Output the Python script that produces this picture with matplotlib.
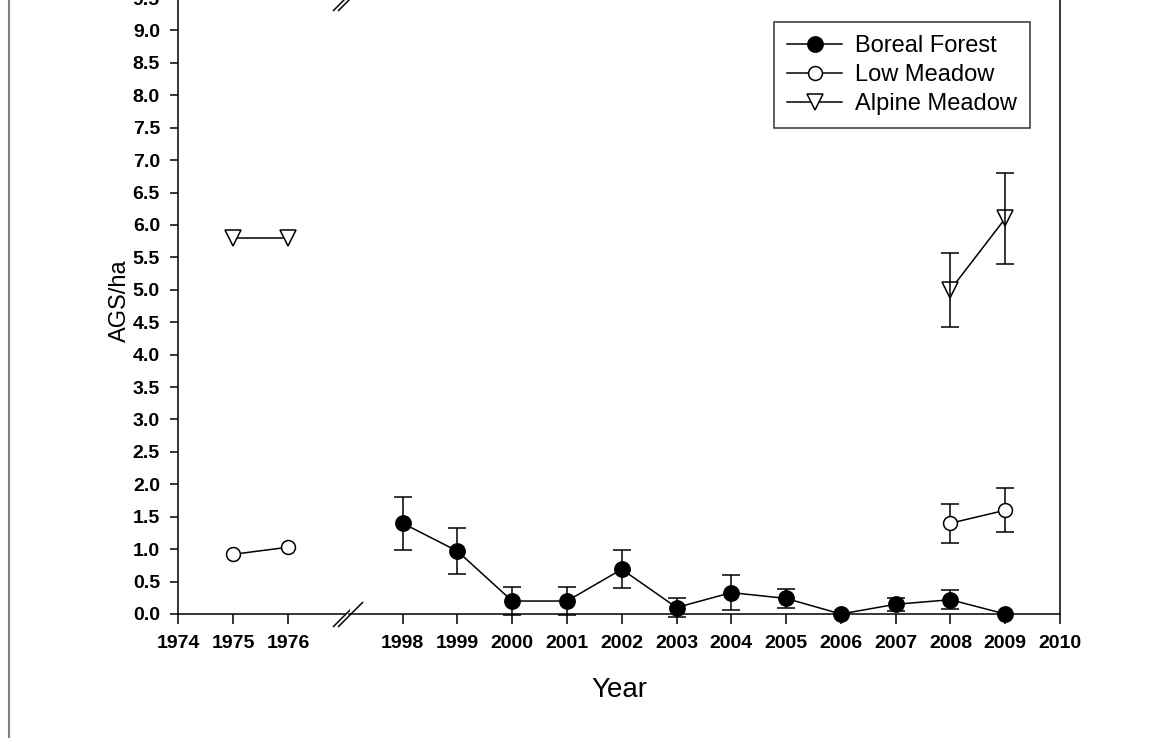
import numpy as np
import matplotlib.pyplot as plt
from matplotlib.lines import Line2D

# data
boreal_years = [1998, 1999, 2000, 2001, 2002, 2003, 2004, 2005, 2006, 2007, 2008, 2009]
boreal_vals = [1.40, 0.97, 0.20, 0.20, 0.69, 0.10, 0.33, 0.24, 0.0, 0.15, 0.22, 0.0]
boreal_err = [0.41, 0.36, 0.21, 0.21, 0.29, 0.14, 0.27, 0.15, 0.0, 0.10, 0.15, 0.0]

low_years = [1975, 1976, 2008, 2009]
low_vals = [0.92, 1.03, 1.40, 1.60]
low_err = [0.0, 0.0, 0.30, 0.34]

alpine_years = [1975, 1976, 2008, 2009]
alpine_vals = [5.80, 5.80, 5.00, 6.10]
alpine_err = [0.0, 0.0, 0.57, 0.70]

left_ticks = [1974, 1975, 1976]
right_ticks = list(range(1998, 2011))
y_ticks = np.arange(0, 9.51, 0.5)

plt.rcParams['font.family'] = ['Liberation Sans', 'DejaVu Sans']

W, H = 1174, 738
fig = plt.figure(figsize=(W / 100, H / 100), dpi=100)


def px_rect(x0, x1, ytop, ybot):
    return [x0 / W, 1 - ybot / H, (x1 - x0) / W, (ybot - ytop) / H]


ax1 = fig.add_axes(px_rect(178, 344.5, -2, 614))
ax2 = fig.add_axes(px_rect(349.5, 1060, -2, 614), sharey=ax1)

ax1.set_xlim(1974, 1974 + 166.5 / 55)
ax2.set_xlim(2010 - 710.5 / 54.78, 2010)
ax1.set_ylim(0, 9.5)

series = [
    (boreal_years, boreal_vals, boreal_err, 'o', 'black', 11, 'Boreal Forest', 2),
    (low_years, low_vals, low_err, 'o', 'white', 10, 'Low Meadow', 2),
    (alpine_years, alpine_vals, alpine_err, 'v', 'white', 11, 'Alpine Meadow', 4),
]

handles = []
for years, vals, errs, mk, fc, ms, name, ez in series:
    years = np.array(years)
    vals = np.array(vals)
    errs = np.array(errs)
    for ax, sel in [(ax1, years < 1990), (ax2, years >= 1990)]:
        if not sel.any():
            continue
        ax.plot(years[sel], vals[sel], color='black', lw=1.1, marker=mk,
                ms=ms, mfc=fc, mec='black', mew=1.1, zorder=3, clip_on=False)
        has = sel & (errs > 0)
        if has.any():
            ax.errorbar(years[has], vals[has], yerr=errs[has], fmt='none',
                        ecolor='black', elinewidth=1.1, capsize=6.5,
                        capthick=1.1, zorder=ez, clip_on=False)
    handles.append(Line2D([], [], color='black', lw=1.1, marker=mk, ms=ms,
                          mfc=fc, mec='black', mew=1.1, label=name))

for ax in (ax1, ax2):
    ax.spines['top'].set_visible(False)
    for s in ax.spines.values():
        s.set_linewidth(1.1)
    ax.tick_params(axis='x', direction='out', length=7, width=1.1,
                   labelsize=14, pad=8)

ax1.spines['right'].set_visible(False)
ax2.spines['left'].set_visible(False)
ax1.set_xticks(left_ticks)
ax2.set_xticks(right_ticks)
ax1.set_xticklabels([str(t) for t in left_ticks], fontweight='bold')
ax2.set_xticklabels([str(t) for t in right_ticks], fontweight='bold')

ax1.set_yticks(y_ticks)
ax1.set_yticklabels(['%.1f' % v for v in y_ticks], fontweight='bold')
ax1.tick_params(axis='y', direction='out', length=6, width=1.1,
                labelsize=14, pad=7)
ax2.tick_params(axis='y', left=False, labelleft=False, right=False)

# break marks
brk = dict(marker=[(-1, -1), (1, 1)], markersize=18, linestyle='none',
           color='black', mec='black', mew=1.1, clip_on=False)
ax1.plot([1, 1], [0, 1], transform=ax1.transAxes, **brk)
ax2.plot([0, 0], [0, 1], transform=ax2.transAxes, **brk)

fig.text(120 / W, 1 - 301 / H, 'AGS/ha', rotation=90, ha='center',
         va='center', fontsize=17)
fig.text(619 / W, 1 - 697 / H, 'Year', ha='center', va='baseline',
         fontsize=20)

leg = ax2.legend(handles=handles, loc='upper right',
                 bbox_to_anchor=(1030 / W, 1 - 22 / H),
                 bbox_transform=fig.transFigure, fontsize=17,
                 frameon=True, fancybox=False, borderpad=0.55,
                 labelspacing=0.3, handlelength=2.33, handletextpad=0.55,
                 borderaxespad=0)
leg.get_frame().set_edgecolor('black')
leg.get_frame().set_linewidth(1.1)

# frame line on the left side of the picture
fig.add_artist(Line2D([8.5 / W, 8.5 / W], [0, 1], transform=fig.transFigure,
                      color='#808080', lw=1.5))

fig.savefig('out.png', dpi=100)
